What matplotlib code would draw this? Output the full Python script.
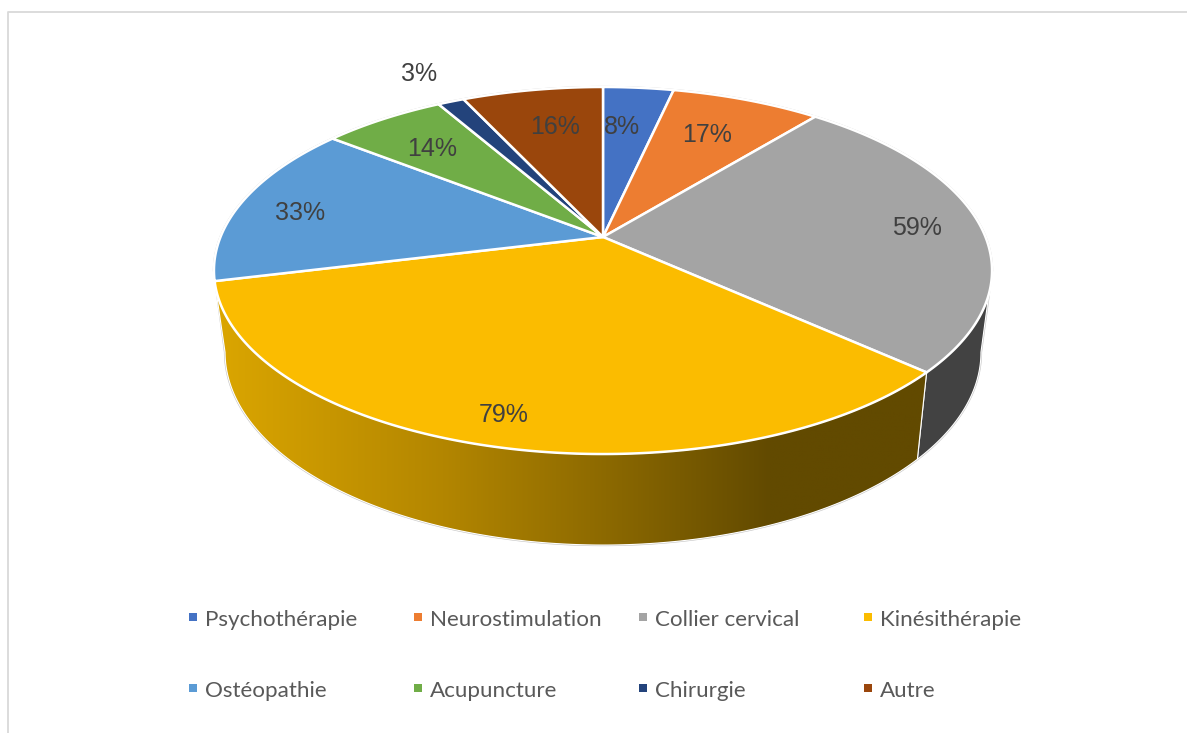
import numpy as np
import matplotlib
matplotlib.use("Agg")
import matplotlib.pyplot as plt
from matplotlib.colors import LinearSegmentedColormap
from matplotlib.patches import Polygon

categories = ["Psychothérapie", "Neurostimulation", "Collier cervical", "Kinésithérapie",
              "Ostéopathie", "Acupuncture", "Chirurgie", "Autre"]
values = [8, 17, 59, 79, 33, 14, 3, 16]
colors = ["#4472C4", "#ED7D31", "#A4A4A4", "#FBBC00", "#5B9BD5", "#70AD47", "#23437B", "#9A460C"]

# label centres, in pixels of the figure
label_xy = [(622, 127), (707, 135), (917, 228), (504, 415), (300, 213), (432, 149), (419, 74), (555, 127)]
legend_x = [192.5, 417.5, 642.5, 867.5]
legend_y = [620, 691]

W, H = 1187, 733
CX = 603
K = 0.1826  # perspective of the disc
TOP = dict(apex=237, a=382.5, b=177.4)
BOTTOM = dict(apex=317, a=371.6, b=186.4)


def project(theta, apex, a, b):
    # theta in degrees, clockwise from north
    t = np.radians(theta)
    u, v = np.sin(t), np.cos(t)
    d = 1 + K * v
    return np.column_stack([CX + a * u / d, apex - b * v / d])


def arc(t1, t2, disc):
    return project(np.linspace(t1, t2, 200), **disc)


fig = plt.figure(figsize=(W / 100, H / 100), dpi=100)
ax = fig.add_axes([0, 0, 1, 1])

edges = np.concatenate([[0], np.cumsum(values)]) / sum(values) * 360
tangent_r = np.degrees(np.arccos(-K))
tangent_l = 360 - tangent_r
split_r = edges[3]
split_l = edges[4]

# outer outline, seen as a thin grey rim behind the white edges
rim = np.vstack([arc(tangent_l, tangent_r + 360, TOP), arc(tangent_r, tangent_l, BOTTOM)])
ax.add_patch(Polygon(rim, closed=True, fc="none", ec="#c4c4c4", lw=1.6, zorder=1))

# side walls
gray_side = np.vstack([arc(tangent_r, split_r, TOP), arc(split_r, tangent_r, BOTTOM)])
ax.add_patch(Polygon(gray_side, closed=True, fc="#424242", ec="white", lw=0.8, zorder=2))

yellow_side = np.vstack([arc(split_r, split_l, TOP), arc(tangent_l, split_r, BOTTOM)])
clip = Polygon(yellow_side, closed=True, fc="none", ec="none", transform=ax.transData)
ax.add_patch(clip)
shade = LinearSegmentedColormap.from_list("shade", [
    (0.0, "#DBA600"), (0.32, "#B38600"), (0.55, "#8C6900"), (0.78, "#624A00"), (1.0, "#624A00")])
x0, x1 = yellow_side[:, 0].min(), yellow_side[:, 0].max()
y0, y1 = yellow_side[:, 1].min(), yellow_side[:, 1].max()
im = ax.imshow(np.linspace(0, 1, 256).reshape(1, -1), cmap=shade, aspect="auto",
               extent=(x0, x1, y1, y0), zorder=2, interpolation="bilinear")
im.set_clip_path(clip)
ax.add_patch(Polygon(yellow_side, closed=True, fc="none", ec="white", lw=0.8, zorder=3))

# top face
for i, color in enumerate(colors):
    pts = np.vstack([[CX, TOP["apex"]], arc(edges[i], edges[i + 1], TOP)])
    ax.add_patch(Polygon(pts, closed=True, fc=color, ec="white", lw=1.8, joinstyle="round", zorder=4))

for (x, y), value in zip(label_xy, values):
    ax.text(x, y, f"{value}%", ha="center", va="center", fontsize=18,
            family="Liberation Sans", color="#404040", zorder=5)

# legend, two rows of four evenly spaced columns
for i, (name, color) in enumerate(zip(categories, colors)):
    x = legend_x[i % 4]
    y = legend_y[i // 4]
    ax.scatter([x], [y - 3], marker="s", s=36, color=color, linewidths=0, zorder=5)
    ax.text(x + 12.5, y, name, ha="left", va="center", fontsize=16.1, family="Lato", color="#595959")

# chart frame, cut off by the crop on the right and bottom
ax.plot([7.5, 7.5, W], [H, 12, 12], color="#d9d9d9", lw=1.3, zorder=0)

ax.set_xlim(0, W)
ax.set_ylim(H, 0)
ax.axis("off")
fig.savefig("out.png", dpi=100)
